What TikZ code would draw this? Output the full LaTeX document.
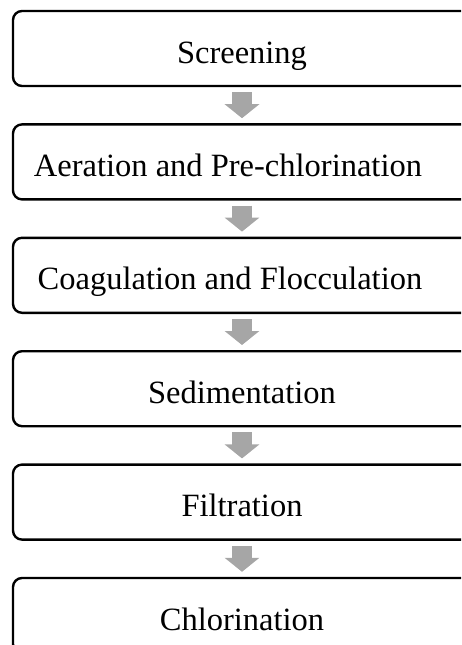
\documentclass[tikz,border=0pt]{standalone}
\usepackage{fontspec}
\setmainfont{Liberation Serif}
\usepackage{tikz}
\usetikzlibrary{positioning,arrows.meta}
\tikzset{
    block/.style={rectangle, draw, line width=2.4pt, rounded corners=9pt, minimum width=458pt, minimum height=75pt, inner sep=0pt, text height=29pt, text depth=0pt, font=\fontsize{32.5}{38}\selectfont},
    flowarrow/.style={draw=black!35, line width=20pt, -{Triangle[length=14pt, width=34pt]}, shorten <=5pt, shorten >=5pt}
}
\begin{document}
\begin{tikzpicture}[node distance=36pt]
    \clip (0pt,0pt) rectangle (461pt,-645pt);
    \useasboundingbox (0pt,0pt) rectangle (461pt,-645pt);
    % Treatment stages
    \node [block] (screening) at (242pt,-48.5pt) {Screening};
    \node [block, below=of screening] (aeration) {\hspace*{-28pt}Aeration and Pre-chlorination};
    \node [block, below=of aeration] (coagulation) {\hspace*{-24pt}Coagulation and Flocculation};
    \node [block, below=of coagulation] (sedimentation) {Sedimentation};
    \node [block, below=of sedimentation] (filtration) {Filtration};
    \node [block, below=of filtration] (chlorination) {Chlorination};

    % Flow
    \path [flowarrow] (screening) -- (aeration);
    \path [flowarrow] (aeration) -- (coagulation);
    \path [flowarrow] (coagulation) -- (sedimentation);
    \path [flowarrow] (sedimentation) -- (filtration);
    \path [flowarrow] (filtration) -- (chlorination);
\end{tikzpicture}
\end{document}
